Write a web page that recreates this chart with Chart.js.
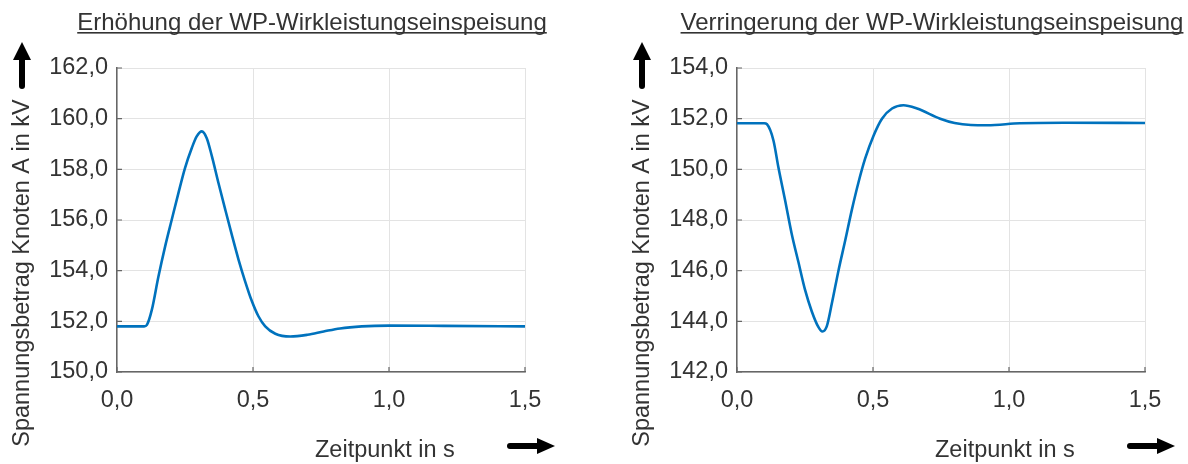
<!DOCTYPE html>
<html>
<head>
<meta charset="utf-8">
<script src="https://cdn.jsdelivr.net/npm/chart.js"></script>
<style>
    body { margin: 0; background: #fff; }
    #wrap { position: relative; width: 1188px; height: 464px; }
    #box1 { position: absolute; left: 0; top: 0; width: 620px; height: 464px; }
    #box2 { position: absolute; left: 620px; top: 0; width: 568px; height: 464px; }
</style>
</head>
<body>
<div id="wrap">
    <div id="box1"><canvas id="chart1"></canvas></div>
    <div id="box2"><canvas id="chart2"></canvas></div>
</div>
<script>
// Erhoehung der WP-Wirkleistungseinspeisung
const timeUp = [0, 0.1, 0.11, 0.128, 0.152, 0.177, 0.201, 0.226, 0.25, 0.275, 0.293, 0.312, 0.33, 0.349, 0.373, 0.398, 0.422, 0.447, 0.471, 0.496, 0.52, 0.545, 0.582, 0.637, 0.7, 0.76, 0.82, 0.9, 1.0, 1.2, 1.5]
const voltUp = [151.8, 151.8, 151.86, 152.45, 153.75, 154.96, 156.0, 157.07, 158.05, 158.84, 159.3, 159.5, 159.23, 158.51, 157.46, 156.41, 155.42, 154.43, 153.58, 152.79, 152.2, 151.8, 151.51, 151.4, 151.47, 151.6, 151.72, 151.8, 151.83, 151.82, 151.8]

// Verringerung der WP-Wirkleistungseinspeisung
const timeDown = [0, 0.1, 0.11, 0.134, 0.152, 0.177, 0.201, 0.226, 0.25, 0.275, 0.299, 0.314, 0.33, 0.349, 0.373, 0.398, 0.422, 0.447, 0.471, 0.502, 0.533, 0.57, 0.612, 0.662, 0.747, 0.8, 0.86, 0.92, 1.04, 1.2, 1.5]
const voltDown = [151.82, 151.82, 151.78, 151.14, 150.09, 148.77, 147.46, 146.33, 145.25, 144.39, 143.78, 143.6, 143.8, 144.72, 146.0, 147.2, 148.39, 149.5, 150.42, 151.33, 152.0, 152.4, 152.53, 152.4, 152.0, 151.83, 151.75, 151.74, 151.82, 151.84, 151.83]

const xTicks = [0, 0.5, 1.0, 1.5]
const yTicksUp = [150, 152, 154, 156, 158, 160, 162]
const yTicksDown = [142, 144, 146, 148, 150, 152, 154]

const titleUp = 'Erhöhung der WP-Wirkleistungseinspeisung'
const titleDown = 'Verringerung der WP-Wirkleistungseinspeisung'
const yTitle = 'Spannungsbetrag Knoten A in kV'
const xTitle = 'Zeitpunkt in s'

const FONT = 'Liberation Sans, Arial, sans-serif'
const TEXT = '#333333'

function komma(v){
    return v.toFixed(1).replace('.', ',')
}

// titles, arrows and inner ticks
const decoPlugin = {
    id: 'deco',
    afterDraw(chart, args, opts) {
        const ctx = chart.ctx
        const a = chart.chartArea
        const xs = chart.scales.x
        const ys = chart.scales.y
        ctx.save()

        // inward tick marks
        ctx.strokeStyle = '#666666'
        ctx.lineWidth = 1.2
        ctx.beginPath()
        xTicks.forEach(v => {
            let px = xs.getPixelForValue(v)
            ctx.moveTo(px, a.bottom)
            ctx.lineTo(px, a.bottom - 5)
        })
        opts.yTicks.forEach(v => {
            let py = ys.getPixelForValue(v)
            ctx.moveTo(a.left, py)
            ctx.lineTo(a.left + 5, py)
        })
        ctx.stroke()

        // underlined title
        ctx.fillStyle = TEXT
        ctx.font = '24px ' + FONT
        ctx.textAlign = 'center'
        ctx.textBaseline = 'alphabetic'
        ctx.fillText(opts.title, 312, 30)
        let w = ctx.measureText(opts.title).width
        ctx.fillRect(312 - w / 2, 32, w, 1.6)

        // axis titles
        ctx.font = '23.5px ' + FONT
        ctx.textAlign = 'left'
        ctx.fillText(xTitle, 315, 457)

        ctx.save()
        ctx.translate(22.5, 273)
        ctx.rotate(-Math.PI / 2)
        ctx.textAlign = 'center'
        ctx.textBaseline = 'middle'
        ctx.fillText(yTitle, 0, 0)
        ctx.restore()

        // arrows
        ctx.fillStyle = '#000'
        ctx.strokeStyle = '#000'
        ctx.lineWidth = 6
        ctx.lineCap = 'round'
        ctx.beginPath()
        ctx.moveTo(22, 86)
        ctx.lineTo(22, 58)
        ctx.stroke()
        ctx.beginPath()
        ctx.moveTo(22, 42)
        ctx.lineTo(31, 60)
        ctx.lineTo(13, 60)
        ctx.closePath()
        ctx.fill()

        ctx.beginPath()
        ctx.moveTo(510, 446)
        ctx.lineTo(539, 446)
        ctx.stroke()
        ctx.beginPath()
        ctx.moveTo(555, 446)
        ctx.lineTo(537, 438)
        ctx.lineTo(537, 454)
        ctx.closePath()
        ctx.fill()

        ctx.restore()
    }
}

function voltChart(id, times=[], volts=[], yTicks=[], title='', rightPad=95){
    let points = []
    for (let i = 0; i < times.length; i++)
        points.push({x: times[i], y: volts[i]})

    const data = {
        datasets: [{
            data: points,
            borderColor: '#0072BD',
            borderWidth: 2.6,
            pointRadius: 0,
            fill: false,
            cubicInterpolationMode: 'monotone'
        }]
    };

    const config = {
        type: 'line',
        data: data,
        options: {
            responsive: true,
            maintainAspectRatio: false,
            animation: false,
            events: [],
            layout: { padding: { left: 0, top: 68, right: rightPad, bottom: 0 } },
            plugins: {
                legend: { display: false },
                tooltip: { enabled: false },
                deco: { title: title, yTicks: yTicks }
            },
            scales: {
                x: {
                    type: 'linear',
                    min: xTicks[0],
                    max: xTicks[xTicks.length - 1],
                    afterBuildTicks: s => { s.ticks = xTicks.map(v => ({value: v})) },
                    afterFit: s => { s.height = 92 },
                    grid: { color: '#e3e3e3', lineWidth: 1, drawTicks: false },
                    border: { display: true, color: '#666666', width: 1.5 },
                    ticks: {
                        padding: 14,
                        color: TEXT,
                        font: { family: FONT, size: 23.5 },
                        callback: v => komma(v)
                    }
                },
                y: {
                    min: yTicks[0],
                    max: yTicks[yTicks.length - 1],
                    afterBuildTicks: s => { s.ticks = yTicks.map(v => ({value: v})) },
                    afterFit: s => { s.width = 117 },
                    grid: { color: '#e3e3e3', lineWidth: 1, drawTicks: false },
                    border: { display: true, color: '#666666', width: 1.5 },
                    ticks: {
                        padding: 9,
                        color: TEXT,
                        font: { family: FONT, size: 23.5 },
                        callback: v => komma(v)
                    }
                }
            }
        },
        plugins: [decoPlugin]
    };
    let c = document.getElementById(id).getContext("2d")
    new Chart(c, config)
}

voltChart('chart1', timeUp, voltUp, yTicksUp, titleUp, 95)
voltChart('chart2', timeDown, voltDown, yTicksDown, titleDown, 43)
</script>
</body>
</html>
